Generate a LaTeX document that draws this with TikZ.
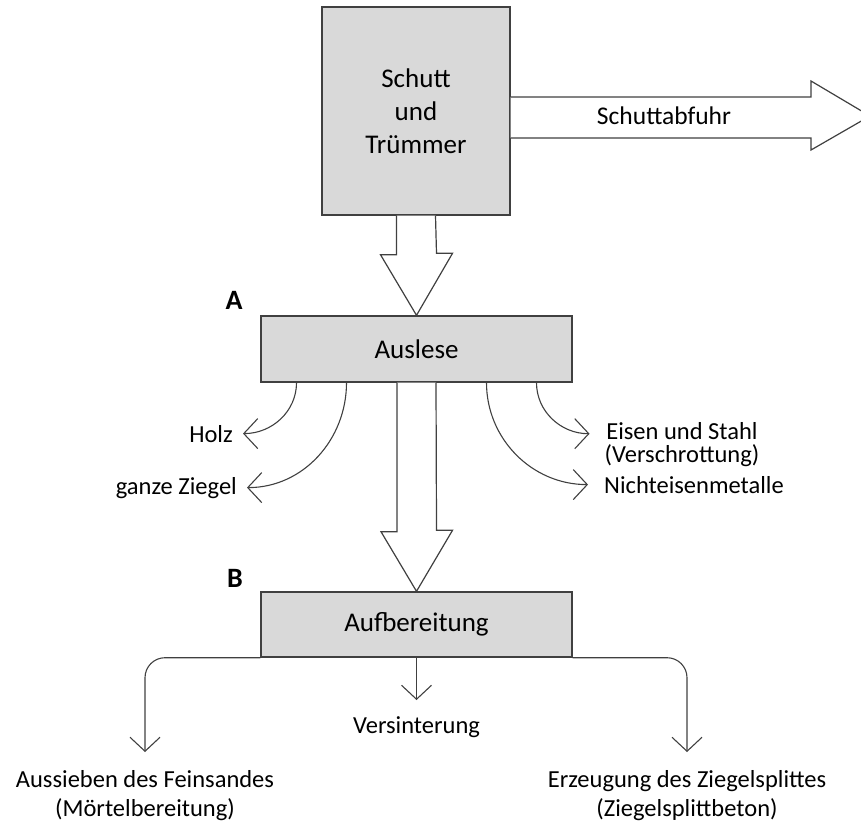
\documentclass[tikz,border=0pt]{standalone}
\usepackage{fontspec}
\setmainfont{Carlito}
\usetikzlibrary{arrows.meta}
\definecolor{boxgray}{HTML}{D9D9D9}
\definecolor{edge}{HTML}{404040}

\begin{document}
\begin{tikzpicture}[x=1pt,y=-1pt,>={Straight Barb[length=14pt,width=30pt]}]
    \tikzset{box/.style={draw=edge,line width=1.4pt,fill=boxgray,inner sep=0pt,align=center,font=\fontsize{27}{33}\selectfont},
             blk/.style={draw=edge,line width=1.2pt,fill=white},
             ar/.style={->,draw=edge,line width=1.1pt},
             lbl/.style={inner sep=0pt,align=center,font=\fontsize{24.5}{23}\selectfont},
             lbb/.style={inner sep=0pt,align=center,font=\fontsize{24.5}{29}\selectfont},
             tag/.style={inner sep=0pt,font=\fontsize{28}{30}\selectfont\bfseries}}
    \useasboundingbox (0,0) rectangle (861,823);
    % labels
    \node[lbl,anchor=base east] (holz) at (233,442) {Holz};
    \node[lbl,anchor=base east] (ziegel) at (237,494) {ganze Ziegel};
    \node[lbl] (eisen) at (682,445) {Eisen und Stahl\\(Verschrottung)};
    \node[lbl,anchor=base west] (nicht) at (604,493) {Nichteisenmetalle};
    \node[lbl,anchor=base] (vers) at (416.5,733) {Versinterung};
    \node[lbb] (sieb) at (145,796) {Aussieben des Feinsandes\\(Mörtelbereitung)};
    \node[lbb] (erz) at (687,796) {Erzeugung des Ziegelsplittes\\(Ziegelsplittbeton)};
    \node[tag] (tA) at (234,300) {A};
    \node[tag] (tB) at (235,578) {B};
    \coordinate (tSieb) at (145,752);
    \coordinate (tErz) at (687,752);
    \coordinate (tVers) at (416.5,700);
    % boxes
    \node[box,minimum width=188pt,minimum height=208pt] (top) at (416,111) {Schutt\\und\\Trümmer};
    \node[box,minimum width=311pt,minimum height=66pt] (ausl) at (416.5,349) {Auslese};
    \node[box,minimum width=311pt,minimum height=65pt] (aufb) at (416.5,624.5) {Aufbereitung};
    % block arrows
    \draw[blk] (top.east |- 0,97) -- (811,97) -- (811,81) -- (870,116) -- (811,150) -- (811,138) -- (top.east |- 0,138);
    \draw[blk] ([xshift=-19.5pt]top.south) -- ++(0,39) -- ++(-16,0) -- (ausl.north) -- ++(36,-62) -- ++(-16,0) -- ([xshift=19.5pt]top.south);
    \draw[blk] ([xshift=-19.5pt]ausl.south) -- ++(0,149) -- ++(-16,0) -- (aufb.north) -- ++(36,-61) -- ++(-16,0) -- ([xshift=19.5pt]ausl.south);
    \node[lbl,font=\fontsize{25.5}{23}\selectfont] (abf) at (664,116) {Schuttabfuhr};
    % sorting
    \foreach \dx/\t in {-120/holz,-70/ziegel}
      \draw[ar] ([xshift=\dx pt]ausl.south) to[out=-90,in=0] ([xshift=10pt]\t.east);
    \draw[ar] ([xshift=120pt]ausl.south) to[out=-90,in=180] ([shift={(-15,11)}]eisen.north west);
    \draw[ar] ([xshift=70pt]ausl.south) to[out=-90,in=180] ([xshift=-16pt]nicht.west);
    % processing
    \draw[ar,rounded corners=20pt] (aufb.south west) -| (tSieb);
    \draw[ar,rounded corners=20pt] (aufb.south east) -| (tErz);
    \draw[ar] (aufb.south) -- (tVers);
\end{tikzpicture}
\end{document}
